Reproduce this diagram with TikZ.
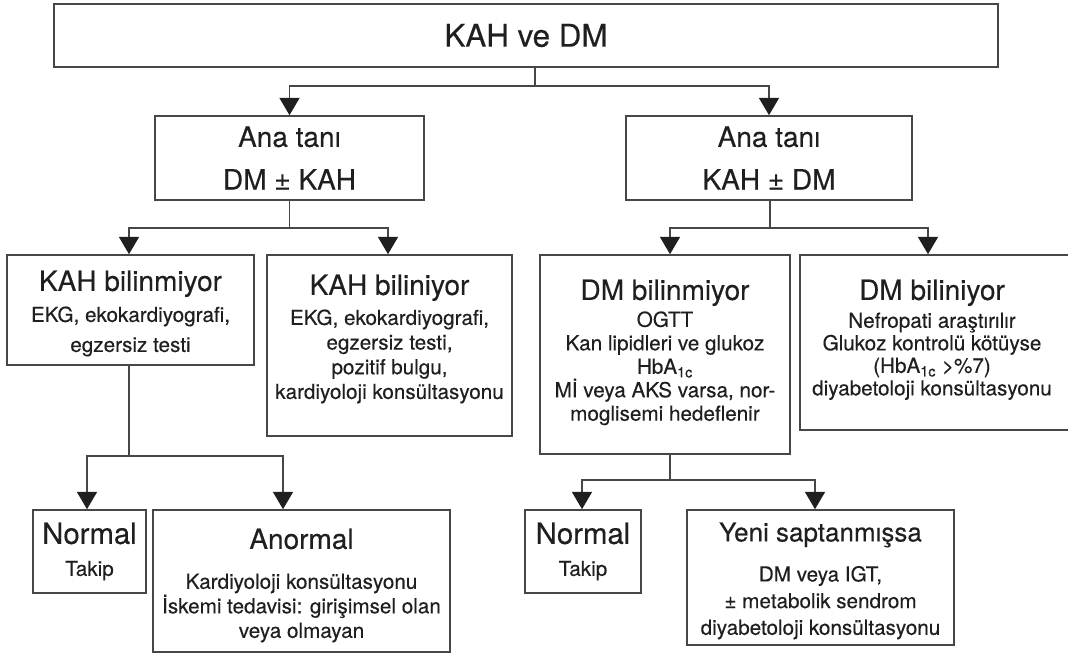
\documentclass[tikz,border=0pt]{standalone}
\usepackage{fontspec}
\setmainfont[FakeBold=0.3]{TeX Gyre Heros}
\usetikzlibrary{arrows.meta,calc}

\newcommand{\boxtitle}[2][21]{{\fontsize{#1}{#1}\selectfont #2}}

\tikzset{every picture/.style={line width=0.75pt}}
\tikzset{
  box/.style={draw=black!72, line width=1.2pt, text=black!88, align=center, inner sep=0pt},
  sz/.style 2 args={minimum width=#1*0.75pt, minimum height=#2*0.75pt},
  txt/.style={align=center, inner sep=0pt, anchor=north, text=black!88},
  body/.style={font=\fontsize{15.5}{#1}\selectfont},
  conn/.style={draw=black!72, line width=1.2pt},
  arr/.style={conn, -{Triangle[width=15pt,length=13pt,color=black!88]}},
}

\begin{document}
\begin{tikzpicture}[x=0.75pt,y=0.75pt,yscale=-1,xscale=1]
\useasboundingbox (0,0) rectangle (1068,656);

% Boxes
\node [box, sz={944}{63}] (top) at (526,35.5) {\boxtitle[23.5]{KAH ve DM}};
\node [box, sz={269}{84}, font=\fontsize{21}{32}\selectfont] (anaL) at (289.5,158) {Ana tanı\\DM ± KAH};
\node [box, sz={286}{84}, font=\fontsize{21}{32}\selectfont] (anaR) at (769,158) {Ana tanı\\KAH ± DM};

\node [box, sz={247}{110}] (kahbm) at (130.5,310) {};
\node [box, sz={245}{181}] (kahb) at (389.5,345.5) {};
\node [box, sz={250}{199}] (dmbm) at (665,354.5) {};
\node [box, sz={270}{175}] (dmb) at (935,342.5) {};
\node [box, sz={113}{83}] (normL) at (89.5,551.5) {};
\node [box, sz={297}{142}] (anorm) at (301.5,581) {};
\node [box, sz={116}{83}] (normR) at (583,551.5) {};
\node [box, sz={267}{135}] (yeni) at (820.5,577.5) {};

% Box texts
\node [txt, body=22.5] (kahbmT) at (130.5,270)
  {\boxtitle{KAH bilinmiyor}\\[0.75pt]EKG, ekokardiyografi,\\egzersiz testi};
\node [txt, body=18.5] (kahbT) at (389.5,274)
  {\boxtitle{KAH biliniyor}\\[4pt]EKG, ekokardiyografi,\\egzersiz testi,\\pozitif bulgu,\\kardiyoloji konsültasyonu};
\node [txt, body=17.6] (dmbmT) at (665,279)
  {\boxtitle{DM bilinmiyor}\\[2.6pt]OGTT\\Kan lipidleri ve glukoz\\HbA\textsubscript{1c}\\Mİ veya AKS varsa, nor-\\moglisemi hedeflenir};
\node [txt, body=16.9] (dmbT) at (932,279)
  {\boxtitle{DM biliniyor}\\[4pt]Nefropati araştırılır\\Glukoz kontrolü kötüyse\\(HbA\textsubscript{1c} >\%7)\\diyabetoloji konsültasyonu};
\node [txt, body=24] (normLT) at (89.5,522) {\boxtitle[22]{Normal}\\Takip};
\node [txt, body=18.4] (anormT) at (301.5,528)
  {\boxtitle{Anormal}\\[11.5pt]Kardiyoloji konsültasyonu\\İskemi tedavisi: girişimsel olan\\veya olmayan};
\node [txt, body=24] (normRT) at (583,522) {\boxtitle[22]{Normal}\\Takip};
\node [txt, body=20] (yeniT) at (820.5,522)
  {\boxtitle[19.5]{Yeni saptanmışsa}\\[10pt]DM veya IGT,\\± metabolik sendrom\\diyabetoloji konsültasyonu};

% Connectors
\draw [conn] ($(top.south)+(9,0)$) -- ++(0,18) coordinate (j0);
\draw [arr] (j0) -| (anaL.north);
\draw [arr] (j0) -| (anaR.north);

\draw [conn] (anaL.south) -- ++(0,27) coordinate (j1);
\draw [arr] (j1) -| ($(kahbm.north)+(-1.5,0)$);
\draw [arr] (j1) -| ($(kahb.north)+(-1.5,0)$);

\draw [conn] ($(anaR.south)+(1,0)$) -- ++(0,27) coordinate (j2);
\draw [arr] (j2) -| ($(dmbm.north)+(5,0)$);
\draw [arr] (j2) -| ($(dmb.north)+(-7,0)$);

\draw [conn] ($(kahbm.south)+(-1.5,0)$) -- ++(0,90) coordinate (j3);
\draw [arr] (j3) -| ($(normL.north)+(-2.5,0)$);
\draw [arr] (j3) -| ($(anorm.north)+(-18.5,0)$);

\draw [conn] ($(dmbm.south)+(5,0)$) -- ++(0,25) coordinate (j4);
\draw [arr] (j4) -| ($(normR.north)+(-1,0)$);
\draw [arr] (j4) -| ($(yeni.north)+(-5.5,0)$);

\end{tikzpicture}
\end{document}
